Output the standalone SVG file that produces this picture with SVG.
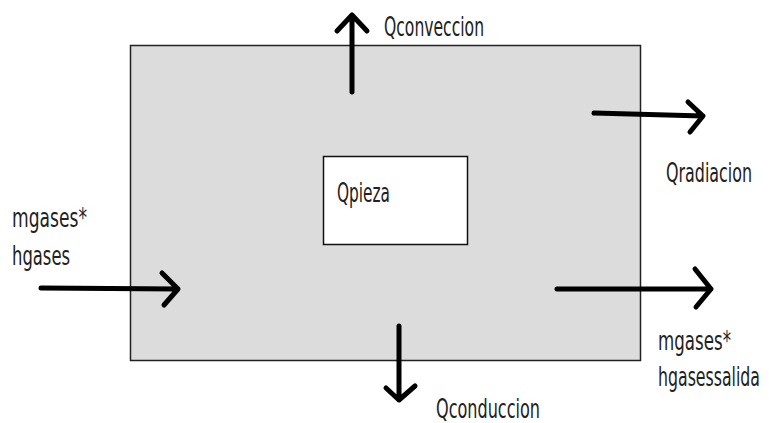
<svg xmlns="http://www.w3.org/2000/svg" width="769" height="423" viewBox="0 0 769 423">
<style>
.lbl{font-family:"DejaVu Sans Condensed","Liberation Sans",sans-serif;font-size:27px;fill:#222;}
.arr{fill:none;stroke:#000;stroke-width:5;stroke-linecap:round;stroke-linejoin:round;}
</style>
<rect width="769" height="423" fill="#fff"/>
<g id="sistema"><rect x="130.5" y="45.5" width="510" height="315" fill="#dcdcdc" stroke="#222" stroke-width="1.5"/></g>
<g id="qpieza"><rect x="323.5" y="156.5" width="144" height="88" fill="#fff" stroke="#111" stroke-width="1.5"/>
<text class="lbl" transform="translate(337,202) scale(0.7,1)" textLength="75.7" lengthAdjust="spacingAndGlyphs">Qpieza</text></g>
<g id="connectors">
<path class="arr" d="M352 92 V15 M337 31 L352 15 L367 31"/>
<path class="arr" d="M594 113 L703 116 M688 102 L703 116 L690 132"/>
<path class="arr" d="M41 288 L178 289 M162 273 L178 289 L164 305"/>
<path class="arr" d="M557 289 H711 M695 269 L711 289 L696 307"/>
<path class="arr" d="M399 326 V400 M386 388 L399 400 L415 386"/>
</g>
<g id="labels">
<text class="lbl" transform="translate(384,36) scale(0.7,1)" textLength="142.9" lengthAdjust="spacingAndGlyphs">Qconveccion</text>
<text class="lbl" transform="translate(666,182) scale(0.7,1)" textLength="122.9" lengthAdjust="spacingAndGlyphs">Qradiacion</text>
<text class="lbl" transform="translate(12,227) scale(0.7,1)" textLength="107.1" lengthAdjust="spacingAndGlyphs">mgases*</text>
<text class="lbl" transform="translate(12,265) scale(0.7,1)" textLength="82.9" lengthAdjust="spacingAndGlyphs">hgases</text>
<text class="lbl" transform="translate(658,350) scale(0.7,1)" textLength="104.3" lengthAdjust="spacingAndGlyphs">mgases*</text>
<text class="lbl" transform="translate(658,386) scale(0.7,1)" textLength="145.7" lengthAdjust="spacingAndGlyphs">hgasessalida</text>
<text class="lbl" transform="translate(436,418) scale(0.7,1)" textLength="148.6" lengthAdjust="spacingAndGlyphs">Qconduccion</text>
</g>
</svg>
